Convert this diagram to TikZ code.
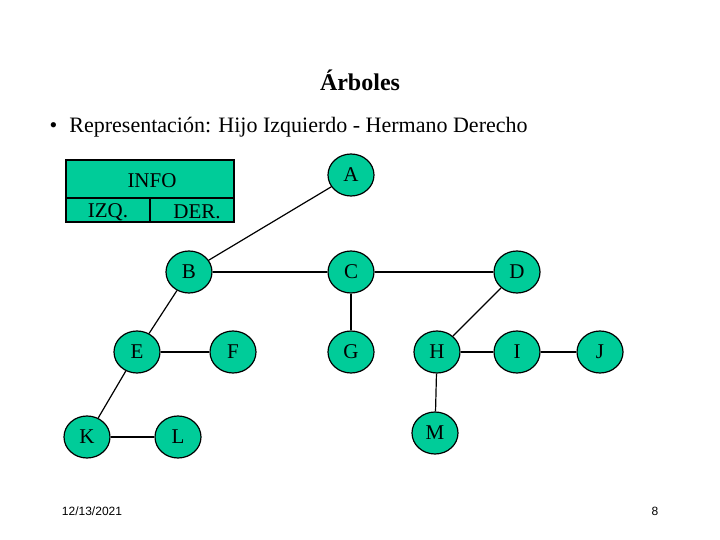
\documentclass[tikz,border=0pt]{standalone}
\usepackage{fontspec}
\setmainfont{Liberation Serif}
\setsansfont{Liberation Sans}
\usetikzlibrary{shapes.geometric}
\definecolor{verde}{RGB}{0,204,153}
\begin{document}
\begin{tikzpicture}[x=1pt, y=-1pt, thick,
  nodo/.style={ellipse, draw, fill=verde, line width=1.2pt, minimum width=46pt, minimum height=42pt, inner sep=0pt, font=\fontsize{21}{21}\selectfont},
  arista/.style={line width=1.2pt}]
\useasboundingbox (0,0) rectangle (720,540);

% Titulo
\node[font=\fontsize{24}{24}\selectfont\bfseries] (titulo) at (360,80) {Árboles};
\node[anchor=west, font=\fontsize{22}{22}\selectfont] (texto) at (46,127) {•\hspace{12pt}Representación: Hijo Izquierdo - Hermano Derecho};

% Caja INFO
\filldraw[fill=verde, line width=1.2pt] (66,160) rectangle (234,222);
\draw[line width=1.2pt] (66,198) -- (234,198);
\draw[line width=2.4pt] (150,198) -- (150,222);
\node[font=\fontsize{21}{21}\selectfont] (info) at (152,181) {INFO};
\node[font=\fontsize{21}{21}\selectfont] (izq) at (108,212) {IZQ.};
\node[font=\fontsize{21}{21}\selectfont] (der) at (197,212) {DER.};

% Nodos
\node[nodo] (A) at (351,175) {A};
\node[nodo] (B) at (189,272) {B};
\node[nodo] (C) at (351,272) {C};
\node[nodo] (D) at (517,272) {D};
\node[nodo] (E) at (137,352) {E};
\node[nodo] (F) at (233,352) {F};
\node[nodo] (G) at (351,352) {G};
\node[nodo] (H) at (437,352) {H};
\node[nodo] (I) at (517,352) {I};
\node[nodo] (J) at (600,352) {J};
\node[nodo] (K) at (87,437) {K};
\node[nodo] (L) at (178,437) {L};
\node[nodo] (M) at (435,433) {M};

% Aristas
\draw[arista] (A) -- (B);
\draw[arista] (B) -- (C);
\draw[arista] (C) -- (D);
\draw[arista] (B) -- (E);
\draw[arista] (E) -- (F);
\draw[arista] (C) -- (G);
\draw[arista] (D) -- (H);
\draw[arista] (H) -- (I);
\draw[arista] (I) -- (J);
\draw[arista] (E) -- (K);
\draw[arista] (K) -- (L);
\draw[arista] (H) -- (M);

% Pie
\node[font=\sffamily\fontsize{12}{12}\selectfont] (fecha) at (92,511) {12/13/2021};
\node[font=\sffamily\fontsize{12}{12}\selectfont] (pagina) at (655,511) {8};
\end{tikzpicture}
\end{document}
